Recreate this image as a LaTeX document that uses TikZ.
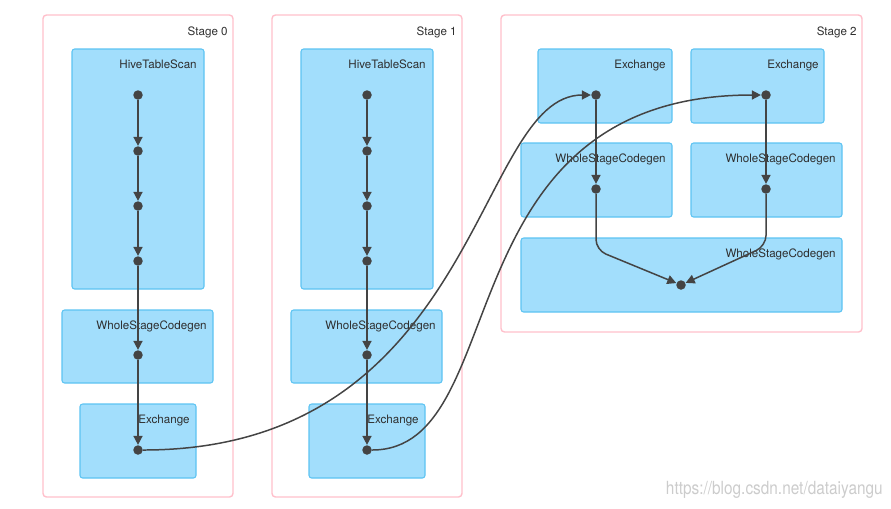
\documentclass[tikz,border=0pt]{standalone}
\usepackage{fontspec}
\setmainfont{TeX Gyre Heros}
\usetikzlibrary{arrows.meta}
\definecolor{boxfill}{HTML}{A2DEFC}
\definecolor{boxline}{HTML}{5CC3F2}
\definecolor{stageline}{HTML}{FFC0CB}
\definecolor{edgecol}{HTML}{444444}
\definecolor{txtcol}{HTML}{2E2E2E}
\begin{document}
\begin{tikzpicture}[x=0.02cm,y=-0.02cm,
    stage/.style={draw=stageline,line width=0.8pt,rounded corners=2pt},
    opbox/.style={draw=boxline,fill=boxfill,line width=0.6pt,rounded corners=1.5pt},
    dot/.style={circle,fill=edgecol,inner sep=0pt,minimum size=0.19cm},
    lbl/.style={anchor=base east,text=txtcol,inner sep=0pt,font=\fontsize{6.6}{7.8}\selectfont},
    flow/.style={draw=edgecol,line width=0.85pt,-{Triangle[length=0.18cm,width=0.18cm]}}]

    \useasboundingbox (0,0) rectangle (891,508);

    % stage 0 and stage 1 have the same plan
    \foreach \s/\dx in {0/0,1/229}{
        \draw [stage] (43+\dx,15) rectangle (233+\dx,497);
        \node [lbl] at (228+\dx,35) {Stage \s};
        \draw [opbox] (72+\dx,49) rectangle (204+\dx,289);
        \node [lbl] at (197+\dx,68) {HiveTableScan};
        \draw [opbox] (62+\dx,310) rectangle (213+\dx,383);
        \node [lbl] at (207+\dx,329) {WholeStageCodegen};
        \draw [opbox] (80+\dx,404) rectangle (196+\dx,478);
        \node [lbl] at (190+\dx,423) {Exchange};
        \node [dot] (s\s-a) at (138+\dx,95) {};
        \node [dot] (s\s-b) at (138+\dx,151) {};
        \node [dot] (s\s-c) at (138+\dx,206) {};
        \node [dot] (s\s-d) at (138+\dx,261) {};
        \node [dot] (s\s-e) at (138+\dx,355) {};
        \node [dot] (s\s-f) at (138+\dx,450) {};
        \draw [flow] (s\s-a)--(s\s-b);
        \draw [flow] (s\s-b)--(s\s-c);
        \draw [flow] (s\s-c)--(s\s-d);
        \draw [flow] (s\s-d)--(s\s-e);
        \draw [flow] (s\s-e)--(s\s-f);
    }

    % stage 2
    \draw [stage] (501,15) rectangle (862,332);
    \node [lbl] at (857,35) {Stage 2};
    \draw [opbox] (538,49) rectangle (672,123);
    \node [lbl] at (666,68) {Exchange};
    \draw [opbox] (691,49) rectangle (824,123);
    \node [lbl] at (819,68) {Exchange};
    \draw [opbox] (521,143) rectangle (672,217);
    \node [lbl] at (666,162) {WholeStageCodegen};
    \draw [opbox] (691,143) rectangle (842,217);
    \node [lbl] at (836,162) {WholeStageCodegen};
    \draw [opbox] (521,238) rectangle (842,312);
    \node [lbl] at (836,257) {WholeStageCodegen};

    \node [dot] (x1) at (596,95) {};
    \node [dot] (x2) at (766,95) {};
    \node [dot] (w1) at (596,189) {};
    \node [dot] (w2) at (766,189) {};
    \node [dot] (m) at (681,285) {};

    \draw [flow] (x1)--(w1);
    \draw [flow] (x2)--(w2);
    \draw [flow,rounded corners=6pt] (w1)--(596,250)--(m);
    \draw [flow,rounded corners=6pt] (w2)--(766,246)--(m);

    % shuffle between the stages
    \draw [flow] (s0-f) .. controls (480,450) and (475,95) .. (x1);
    \draw [flow] (s1-f) .. controls (515,450) and (440,95) .. (x2);

    \node [anchor=base east,text=gray!40,inner sep=0pt,xscale=0.85,
        font=\fontsize{10.3}{12}\selectfont] (mark) at (883,494) {https://blog.csdn.net/dataiyangu};
\end{tikzpicture}
\end{document}
